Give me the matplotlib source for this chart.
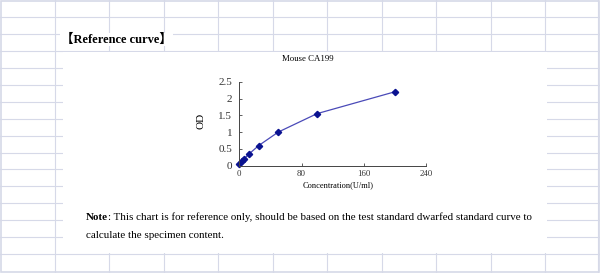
import numpy as np
import matplotlib.pyplot as plt
from matplotlib.patches import Rectangle

# standard curve data
conc = [0, 3.125, 6.25, 12.5, 25, 50, 100, 200]
od = [0.06, 0.13, 0.2, 0.35, 0.6, 1.0, 1.55, 2.2]
x_ticks = [0, 80, 160, 240]
y_ticks = [0, 0.5, 1, 1.5, 2, 2.5]
y_tick_labels = ["0", "0.5", "1", "1.5", "2", "2.5"]

W, H = 600, 273
GRID = "#d6d9e8"
SERIF = ["Liberation Serif", "Noto Sans CJK SC"]

fig = plt.figure(figsize=(6, 2.73), dpi=100)

# spreadsheet background in pixel coordinates
bg = fig.add_axes([0, 0, 1, 1])
bg.set_xlim(0, W)
bg.set_ylim(H, 0)
bg.axis("off")
for k in range(1, 11):
    bg.axvline(54.5 * k, color=GRID, lw=0.8)
for k in range(1, 16):
    bg.axhline(0.4 + 16.9 * k, color=GRID, lw=0.8)
bg.axvline(598, color=GRID, lw=0.8)
bg.add_patch(Rectangle((0.5, 0.5), W - 1.5, 271, fill=False, ec=GRID, lw=1.2))
# white block holding the chart and the note
bg.add_patch(Rectangle((63, 52.2), 484, 201.2, fc="white", ec="none", zorder=2))

bg.text(61, 39.5, "【Reference curve】", fontsize=9, fontweight="bold",
        family=SERIF, va="center", ha="left", zorder=3,
        bbox=dict(fc="white", ec="none", pad=0.5))
bg.text(308, 59, "Mouse CA199", fontsize=6.3, family=SERIF,
        ha="center", va="center", zorder=3)
bg.text(201.5, 121, "OD", fontsize=8, family=SERIF, rotation=90,
        ha="center", va="center", zorder=3)
bg.text(338, 185, "Concentration(U/ml)", fontsize=6, family=SERIF,
        ha="center", va="center", zorder=3)
note = bg.text(86, 217, "Note", fontsize=7.9, fontweight="bold", family=SERIF,
               ha="left", va="center", zorder=3)
bg.annotate(": This chart is for reference only, should be based on the test "
            "standard dwarfed standard curve to", xy=(1, 0.5), xycoords=note,
            fontsize=7.9, family=SERIF, ha="left", va="center", zorder=3)
bg.text(86, 235, "calculate the specimen content.", fontsize=7.9, family=SERIF,
        ha="left", va="center", zorder=3)

# the chart itself
x0, x1, y0, y1 = 239.3, 426, 165.7, 81.7
ax = fig.add_axes([x0 / W, (H - y0) / H, (x1 - x0) / W, (y0 - y1) / H])
ax.set_facecolor("none")
ax.set_zorder(5)
ax.plot(conc, od, color="#4a4ab8", lw=0.9, marker="D", ms=3.2,
        mfc="#0a1290", mec="#0a1290", clip_on=False)
ax.set_xlim(0, 240)
ax.set_ylim(0, 2.5)
ax.set_xticks(x_ticks)
ax.set_yticks(y_ticks)
ax.set_yticklabels(y_tick_labels)
for s in ["top", "right"]:
    ax.spines[s].set_visible(False)
for s in ["left", "bottom"]:
    ax.spines[s].set_color("#444444")
    ax.spines[s].set_linewidth(0.7)
ax.tick_params(direction="in", length=2.5, width=0.6, color="#444444")
ax.tick_params(axis="x", labelsize=6.3, pad=3)
ax.tick_params(axis="y", labelsize=8, pad=5)
for lab in ax.get_xticklabels() + ax.get_yticklabels():
    lab.set_family(SERIF)
    lab.set_color("#333333")

fig.savefig("out.png", dpi=100)
